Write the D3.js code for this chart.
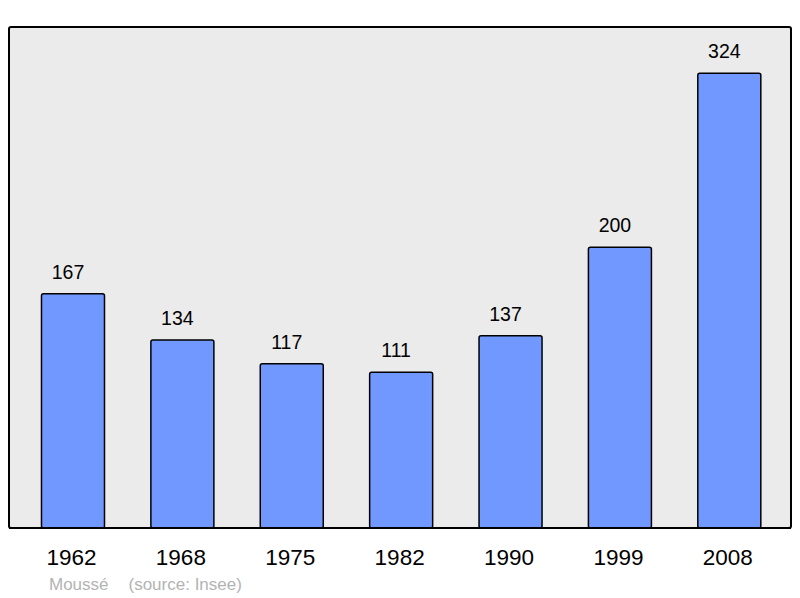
<!DOCTYPE html>
<html>
<head>
<meta charset="utf-8">
<script src="https://cdn.jsdelivr.net/npm/d3@7"></script>
<style>
  body { margin: 0; background: #fff; }
  text { font-family: "Liberation Sans", Arial, sans-serif; }
</style>
</head>
<body>
<div id="svgcontainer"></div>
<script>
var years = ["1962", "1968", "1975", "1982", "1990", "1999", "2008"];
var population = [167, 134, 117, 111, 137, 200, 324];
var commune = "Moussé";
var source = "(source: Insee)";

var width = 800;
var height = 598;
var panel = {x: 9, y: 27, w: 782, h: 501};

var svg = d3.select("#svgcontainer")
            .append("svg")
            .attr("width", width)
            .attr("height", height);

var x = d3.scaleBand()
            .domain(years)
            .range([18.3, 784])
            .paddingInner(0.424)
            .paddingOuter(0.212);

var y = d3.scaleLinear()
            .domain([0, 357])
            .range([panel.y + panel.h, panel.y]);

svg.append("rect")
    .attr("x", panel.x)
    .attr("y", panel.y)
    .attr("width", panel.w)
    .attr("height", panel.h)
    .attr("rx", 2)
    .style("fill", "#ebebeb")
    .attr("stroke", "#000")
    .style("stroke-width", 2);

var data = years.map(function(d, i){ return {year: d, value: population[i]}; });

var g = svg.selectAll("g.bar")
            .data(data)
            .enter()
            .append("g")
            .attr("class", "bar");

g.append("rect")
    .attr("x", d => x(d.year))
    .attr("y", d => y(d.value))
    .attr("width", x.bandwidth())
    .attr("height", d => y(0) - y(d.value))
    .attr("rx", 2)
    .style("fill", "#7098ff")
    .attr("stroke", "#000")
    .style("stroke-width", 1.5);

// value labels sit a little left of the bar centre in the original
g.append("text")
    .attr("x", d => x(d.year) + x.bandwidth() / 2 - 5)
    .attr("y", d => y(d.value) - 15)
    .attr("text-anchor", "middle")
    .attr("font-size", "19.5px")
    .style("fill", "#000")
    .text(d => d.value);

// redraw the panel bottom line over the bars
svg.append("line")
    .attr("x1", panel.x)
    .attr("x2", panel.x + panel.w)
    .attr("y1", panel.y + panel.h)
    .attr("y2", panel.y + panel.h)
    .attr("stroke", "#000")
    .style("stroke-width", 2);

svg.append("g")
    .selectAll("text")
    .data(years)
    .enter()
    .append("text")
    .attr("x", d => x(d) + x.bandwidth() / 2 - 1.5)
    .attr("y", 565)
    .attr("text-anchor", "middle")
    .attr("font-size", "22.5px")
    .style("fill", "#000")
    .text(d => d);

svg.append("text")
    .attr("x", 49)
    .attr("y", 590)
    .attr("font-size", "17px")
    .style("fill", "#b3b3b3")
    .text(commune);

svg.append("text")
    .attr("x", 128.5)
    .attr("y", 590)
    .attr("font-size", "17px")
    .style("fill", "#b3b3b3")
    .text(source);
</script>
</body>
</html>
